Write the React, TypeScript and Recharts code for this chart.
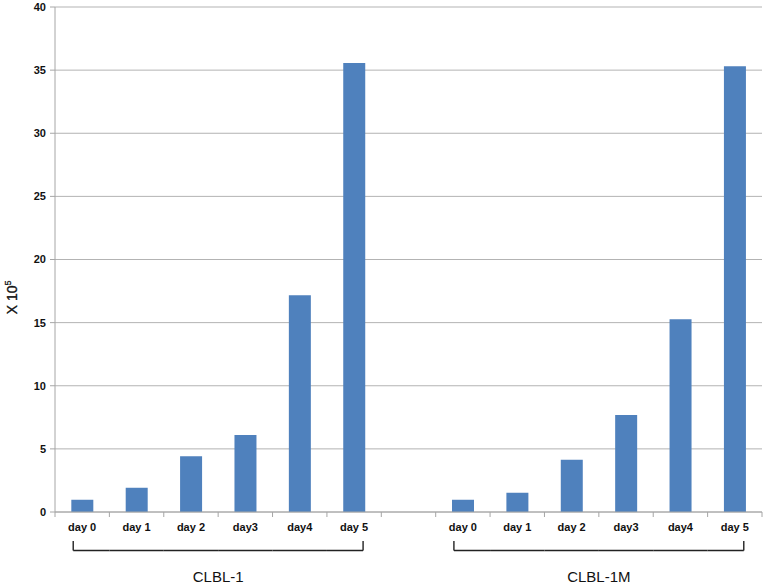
import { BarChart, Bar, XAxis, YAxis, CartesianGrid } from "recharts";

const days = ["day 0", "day 1", "day 2", "day3", "day4", "day 5"];
const groups = ["CLBL-1", "CLBL-1M"];
const clbl1 = [0.97, 1.92, 4.41, 6.1, 17.16, 35.57];
const clbl1m = [0.97, 1.53, 4.14, 7.68, 15.26, 35.31];
const yTicks = [0, 5, 10, 15, 20, 25, 30, 35, 40];

interface Row {
    label: string;
    value: number | null;
    group: string;
    pos: number;
}

const rows: Row[] = [
    ...days.map((d, i) => ({ label: d, value: clbl1[i], group: groups[0], pos: i })),
    { label: "", value: null, group: "", pos: -1 },
    ...days.map((d, i) => ({ label: d, value: clbl1m[i], group: groups[1], pos: i })),
];

const FONT = "'Liberation Sans', Arial, sans-serif";
const AXIS = "#a6a6a6";

function DayTick(props: any) {
    const { x, y, payload, index } = props;
    const off = payload?.offset ?? 27;
    const row = rows[index];
    const last = index === rows.length - 1;
    const n = days.length;
    const inset = off * 0.33;
    const by = y + 38.5;

    let bracket = null;
    if (row && row.pos >= 0) {
        const x1 = row.pos === 0 ? x - inset : x - off;
        const x2 = row.pos === n - 1 ? x + inset : x + off;
        bracket = (
            <g stroke="#222" strokeWidth={1.4} fill="none">
                <line x1={x1} y1={by} x2={x2} y2={by} />
                {row.pos === 0 && <line x1={x1} y1={y + 29} x2={x1} y2={by} />}
                {row.pos === n - 1 && <line x1={x2} y1={y + 29} x2={x2} y2={by} />}
            </g>
        );
    }

    return (
        <g>
            <line x1={x - off} y1={y} x2={x - off} y2={y + 5} stroke={AXIS} />
            {last && <line x1={x + off} y1={y} x2={x + off} y2={y + 5} stroke={AXIS} />}
            <text x={x} y={y + 19} textAnchor="middle" fontSize={11} fontWeight="bold"
                fontFamily={FONT} fill="#111">
                {payload.value}
            </text>
            {bracket}
            {row && row.pos === Math.floor(n / 2) - 1 && (
                <text x={x + off} y={y + 70} textAnchor="middle" fontSize={15}
                    fontFamily={FONT} fill="#111">
                    {row.group}
                </text>
            )}
        </g>
    );
}

function YLabel(props: any) {
    const { viewBox } = props;
    const cy = viewBox.y + viewBox.height * 0.575;
    return (
        <text x={17} y={cy} transform={`rotate(-90, 17, ${cy})`} textAnchor="middle"
            fontSize={14} fontFamily={FONT} fill="#111" stroke="#111" strokeWidth={0.3}>
            X 10<tspan fontSize={9} dy={-6}>5</tspan>
        </text>
    );
}

export default function App() {
    return (
        <div style={{ width: 769, height: 585, background: "#fff" }}>
            <style>{"body{margin:0}"}</style>
            <BarChart
                width={769}
                height={585}
                data={rows}
                margin={{ top: 7, right: 7, left: 0, bottom: 0 }}
                barCategoryGap="30%"
            >
                <CartesianGrid vertical={false} stroke="#b3b3b3" />
                <XAxis
                    dataKey="label"
                    height={73}
                    interval={0}
                    tickSize={0}
                    tickMargin={0}
                    tickLine={false}
                    axisLine={{ stroke: AXIS }}
                    tick={<DayTick />}
                />
                <YAxis
                    width={55}
                    domain={[0, 40]}
                    ticks={yTicks}
                    interval={0}
                    tickSize={5}
                    tickMargin={4}
                    axisLine={{ stroke: AXIS }}
                    tickLine={{ stroke: AXIS }}
                    tick={{ fontSize: 11, fontWeight: "bold", fill: "#111", fontFamily: FONT }}
                    label={<YLabel />}
                />
                <Bar dataKey="value" fill="#4f81bd" isAnimationActive={false} />
            </BarChart>
        </div>
    );
}
